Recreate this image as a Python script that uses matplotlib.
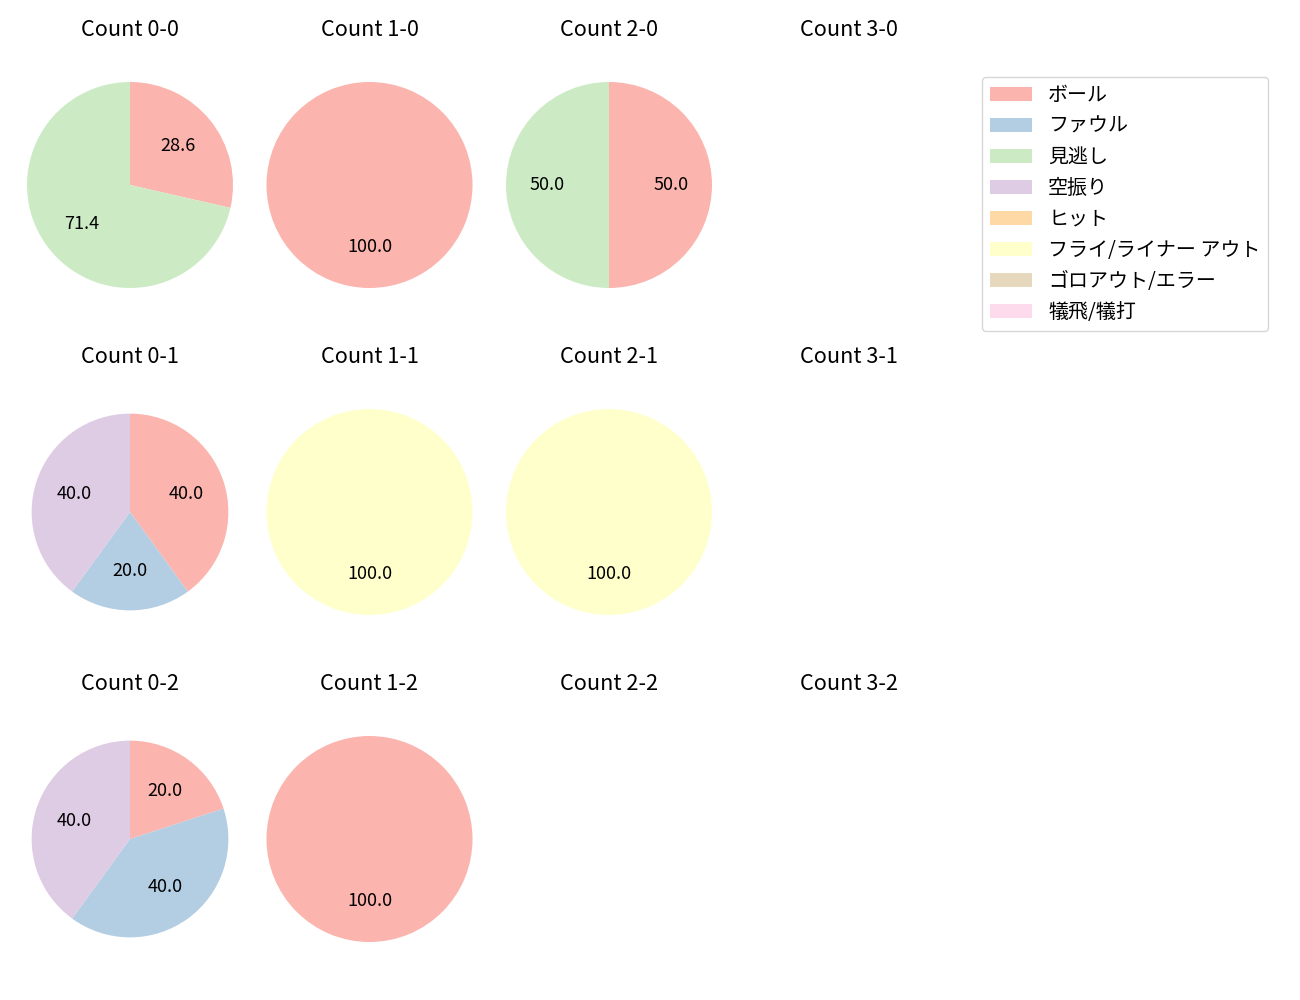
import numpy as np
import matplotlib as mpl

mpl.use("Agg")
import matplotlib.pyplot as plt
from matplotlib.patches import Patch

plt.rcParams["font.family"] = ["Noto Sans CJK JP", "DejaVu Sans"]
plt.rcParams["font.size"] = 13

CATEGORIES = [
    "ボール",
    "ファウル",
    "見逃し",
    "空振り",
    "ヒット",
    "フライ/ライナー アウト",
    "ゴロアウト/エラー",
    "犠飛/犠打",
]
COLORS = plt.get_cmap("Pastel1").colors[: len(CATEGORIES)]

# counts per category, keyed by "balls-strikes"
COUNT_LABELS = [
    ["0-0", "1-0", "2-0", "3-0"],
    ["0-1", "1-1", "2-1", "3-1"],
    ["0-2", "1-2", "2-2", "3-2"],
]
VALUES = {
    "0-0": [2, 0, 5, 0, 0, 0, 0, 0],
    "1-0": [1, 0, 0, 0, 0, 0, 0, 0],
    "2-0": [1, 0, 1, 0, 0, 0, 0, 0],
    "3-0": [0, 0, 0, 0, 0, 0, 0, 0],
    "0-1": [2, 1, 0, 2, 0, 0, 0, 0],
    "1-1": [0, 0, 0, 0, 0, 1, 0, 0],
    "2-1": [0, 0, 0, 0, 0, 1, 0, 0],
    "3-1": [0, 0, 0, 0, 0, 0, 0, 0],
    "0-2": [1, 2, 0, 2, 0, 0, 0, 0],
    "1-2": [1, 0, 0, 0, 0, 0, 0, 0],
    "2-2": [0, 0, 0, 0, 0, 0, 0, 0],
    "3-2": [0, 0, 0, 0, 0, 0, 0, 0],
}

W, H = 1300, 1000
fig = plt.figure(figsize=(13, 10), dpi=100)

# cell geometry in pixels
ax_w, ax_h = 226.6, 276
col_step, row_step = 239.5, 327
left0, top0 = 16.7, 47

for r, row in enumerate(COUNT_LABELS):
    for c, key in enumerate(row):
        left = (left0 + c * col_step) / W
        bottom = 1 - (top0 + r * row_step + ax_h) / H
        ax = fig.add_axes([left, bottom, ax_w / W, ax_h / H])
        ax.set_title(f"Count {key}", pad=7.8)
        vals = np.array(VALUES[key], dtype=float)
        mask = vals > 0
        if mask.any():
            # pies with three or more slices come out a bit smaller in the original
            radius = 0.955 if mask.sum() > 2 else 1.0
            ax.pie(
                vals[mask],
                colors=[col for col, m in zip(COLORS, mask) if m],
                autopct="%.1f",
                startangle=90,
                counterclock=False,
                radius=radius,
            )
            ax.set_xlim(-1.1, 1.1)
            ax.set_ylim(-1.1, 1.1)
            ax.set_aspect("equal", adjustable="datalim")
        ax.axis("off")

handles = [Patch(facecolor=col, label=lab) for col, lab in zip(COLORS, CATEGORIES)]
fig.legend(
    handles=handles,
    loc="upper left",
    bbox_to_anchor=(982 / W, 1 - 77 / H),
    borderaxespad=0,
    fontsize=14.4,
    handlelength=2.1,
)

fig.savefig("out.png")
